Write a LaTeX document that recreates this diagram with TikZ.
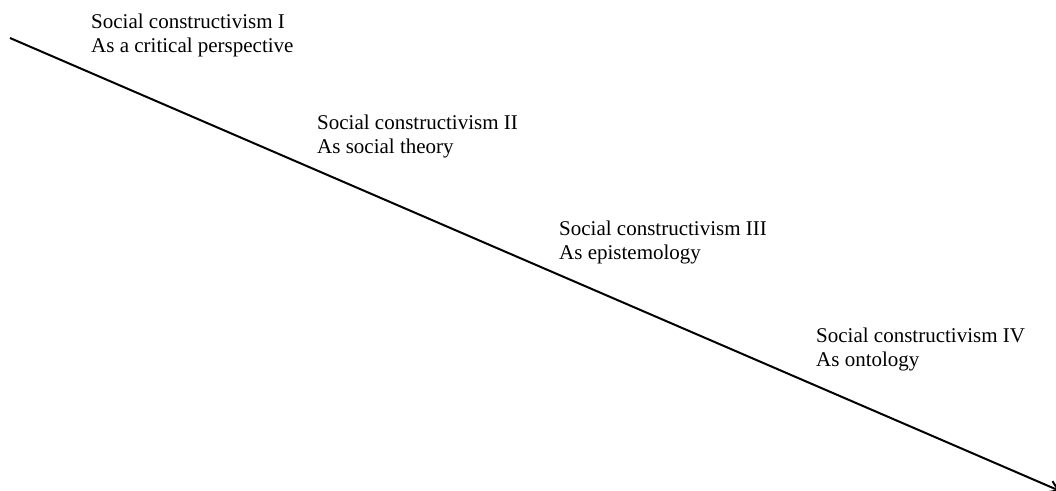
\documentclass[tikz,border=0pt]{standalone}
\usepackage{fontspec}
\setmainfont{Liberation Serif}
\usetikzlibrary{arrows.meta}
\begin{document}
\begin{tikzpicture}[x=1pt,y=-1pt,
    stage/.style={anchor=base west,align=left,inner sep=0pt,
      font=\fontsize{21}{24}\selectfont}]
      \useasboundingbox (0,0) rectangle (1056,490);
      %\draw [help lines] (0,0) grid (1056,490);
      \coordinate (start) at (10,38);
      \coordinate (end) at (1060,491);
      % anchors sit on the second line's baseline
      \node[stage] (sc1) at (91,52) {Social constructivism I\\As a critical perspective};
      \node[stage] (sc2) at (317,153) {Social constructivism II\\As social theory};
      \node[stage] (sc3) at (559,259) {Social constructivism III\\As epistemology};
      \node[stage] (sc4) at (816,366) {Social constructivism IV\\As ontology};

      \draw[line width=2pt,-{Straight Barb[length=9pt,width=12pt]}] (start) -- (end);
    \end{tikzpicture}
\end{document}
